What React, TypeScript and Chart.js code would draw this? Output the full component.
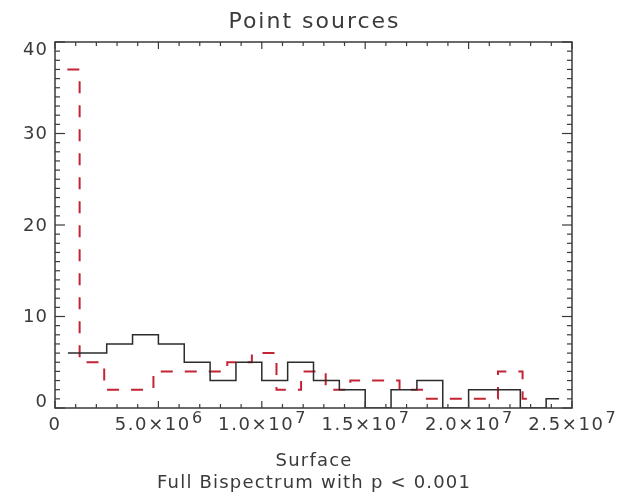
import React, { useEffect, useRef } from "react";
import { Chart, registerables } from "chart.js";

Chart.register(...registerables);

// ---- data ----
const blackCounts = [6, 6, 7, 8, 7, 5, 3, 5, 3, 5, 3, 2, 0, 2, 3, 0, 2, 2, 0, 1];
const redCounts = [37, 5, 2, 2, 4, 4, 4, 5, 6, 2, 4, 2, 3, 3, 2, 1, 1, 1, 4, 1];
const blackBinWidth = 1.25e6;
const redBinWidth = 1.19e6;

const xTickValues = [0, 5e6, 1e7, 1.5e7, 2e7, 2.5e7];
const xTickMantissa = ["0", "5.0×10", "1.0×10", "1.5×10", "2.0×10", "2.5×10"];
const xTickExponent = ["", "6", "7", "7", "7", "7"];
const yTickValues = [0, 10, 20, 30, 40];
const yTickLabels = ["0", "10", "20", "30", "40"];

const titleText = "Point sources";
const xTitleText = "Surface";
const subTitleText = "Full Bispectrum with p < 0.001";

const FONT = "'DejaVu Sans', 'Liberation Sans', sans-serif";
const INK = "#3a3a3a";

function toPoints(counts: number[], width: number) {
  return counts.map((c, i) => ({ x: (i + 0.5) * width, y: c }));
}

function spacedWidth(ctx: CanvasRenderingContext2D, text: string, spacing: number) {
  (ctx as any).letterSpacing = "0px";
  return ctx.measureText(text).width + spacing * text.length;
}

function drawSpaced(
  ctx: CanvasRenderingContext2D,
  text: string,
  x: number,
  y: number,
  spacing: number
) {
  // left-aligned drawing with letter spacing
  (ctx as any).letterSpacing = `${spacing}px`;
  ctx.fillText(text, x, y);
  (ctx as any).letterSpacing = "0px";
}

function drawCentered(
  ctx: CanvasRenderingContext2D,
  text: string,
  cx: number,
  y: number,
  spacing: number
) {
  const w = spacedWidth(ctx, text, spacing) - spacing;
  ctx.textAlign = "left";
  drawSpaced(ctx, text, cx - w / 2, y, spacing);
}

const framePlugin = {
  id: "idlFrame",
  afterDraw(chart: any) {
    const { ctx, chartArea: a, scales } = chart;
    const xs = scales.x;
    const ys = scales.y;
    ctx.save();
    ctx.strokeStyle = INK;
    ctx.lineWidth = 1.5;
    ctx.strokeRect(a.left, a.top, a.right - a.left, a.bottom - a.top);

    ctx.lineWidth = 1.2;
    const seg = (x1: number, y1: number, x2: number, y2: number) => {
      ctx.beginPath();
      ctx.moveTo(x1, y1);
      ctx.lineTo(x2, y2);
      ctx.stroke();
    };
    // x ticks: minor every 1e6, major every 5e6 (inward, top & bottom)
    for (let k = 0; k <= 25; k++) {
      const px = xs.getPixelForValue(k * 1e6);
      const len = k % 5 === 0 ? 7 : 4;
      seg(px, a.bottom, px, a.bottom - len);
      seg(px, a.top, px, a.top + len);
    }
    // y ticks: minor every 1, major every 10 (inward, left & right)
    for (let k = 0; k <= 40; k++) {
      const py = ys.getPixelForValue(k);
      const len = k % 10 === 0 ? 10 : 5;
      seg(a.left, py, a.left + len, py);
      seg(a.right, py, a.right - len, py);
    }

    ctx.fillStyle = INK;
    // y labels
    ctx.font = `18px ${FONT}`;
    ctx.textBaseline = "middle";
    yTickValues.forEach((v, i) => {
      let py = ys.getPixelForValue(v);
      py = Math.min(Math.max(py, a.top + 7), a.bottom - 7);
      const w = spacedWidth(ctx, yTickLabels[i], 1) - 1;
      ctx.textAlign = "left";
      drawSpaced(ctx, yTickLabels[i], a.left - 8 - w, py + 1, 1);
    });

    // x labels with superscript exponent
    ctx.textBaseline = "alphabetic";
    ctx.textAlign = "left";
    xTickValues.forEach((v, i) => {
      const px = xs.getPixelForValue(v);
      ctx.font = `18px ${FONT}`;
      const w1 = spacedWidth(ctx, xTickMantissa[i], 1.6);
      ctx.font = `16px ${FONT}`;
      const w2 = xTickExponent[i] ? ctx.measureText(xTickExponent[i]).width + 1 : 0;
      const start = px - (w1 + w2) / 2;
      ctx.font = `18px ${FONT}`;
      drawSpaced(ctx, xTickMantissa[i], start, a.bottom + 22, 1.6);
      if (xTickExponent[i]) {
        ctx.font = `16px ${FONT}`;
        ctx.fillText(xTickExponent[i], start + w1 + 1, a.bottom + 15);
      }
    });

    // titles
    const cx = (a.left + a.right) / 2;
    ctx.font = `22px ${FONT}`;
    drawCentered(ctx, titleText, cx, 28, 2);
    ctx.font = `18px ${FONT}`;
    drawCentered(ctx, xTitleText, cx, 466, 1.2);
    drawCentered(ctx, subTitleText, cx, 488, 1.2);
    ctx.restore();
  },
};

export default function App() {
  const ref = useRef<HTMLCanvasElement | null>(null);

  useEffect(() => {
    document.body.style.margin = "0";
    const canvas = ref.current;
    if (!canvas) return;
    const chart = new Chart(canvas, {
      type: "line",
      data: {
        datasets: [
          {
            label: "black",
            data: toPoints(blackCounts, blackBinWidth),
            stepped: "middle",
            borderColor: "#2b2b2b",
            borderWidth: 1.5,
            pointRadius: 0,
            fill: false,
          },
          {
            label: "red",
            data: toPoints(redCounts, redBinWidth),
            stepped: "middle",
            borderColor: "rgb(194, 36, 54)",
            borderWidth: 2,
            borderDash: [12, 12],
            pointRadius: 0,
            fill: false,
          },
        ],
      },
      options: {
        responsive: false,
        animation: false,
        devicePixelRatio: 1,
        layout: { padding: { left: 55, right: 60, top: 42, bottom: 87 } },
        plugins: {
          legend: { display: false },
          title: { display: false },
          tooltip: { enabled: false },
        },
        scales: {
          x: { type: "linear", min: 0, max: 2.5e7, display: false },
          y: { type: "linear", min: 0, max: 40, display: false },
        },
      },
      plugins: [framePlugin],
    });
    return () => chart.destroy();
  }, []);

  return <canvas ref={ref} width={632} height={495} style={{ display: "block" }} />;
}
